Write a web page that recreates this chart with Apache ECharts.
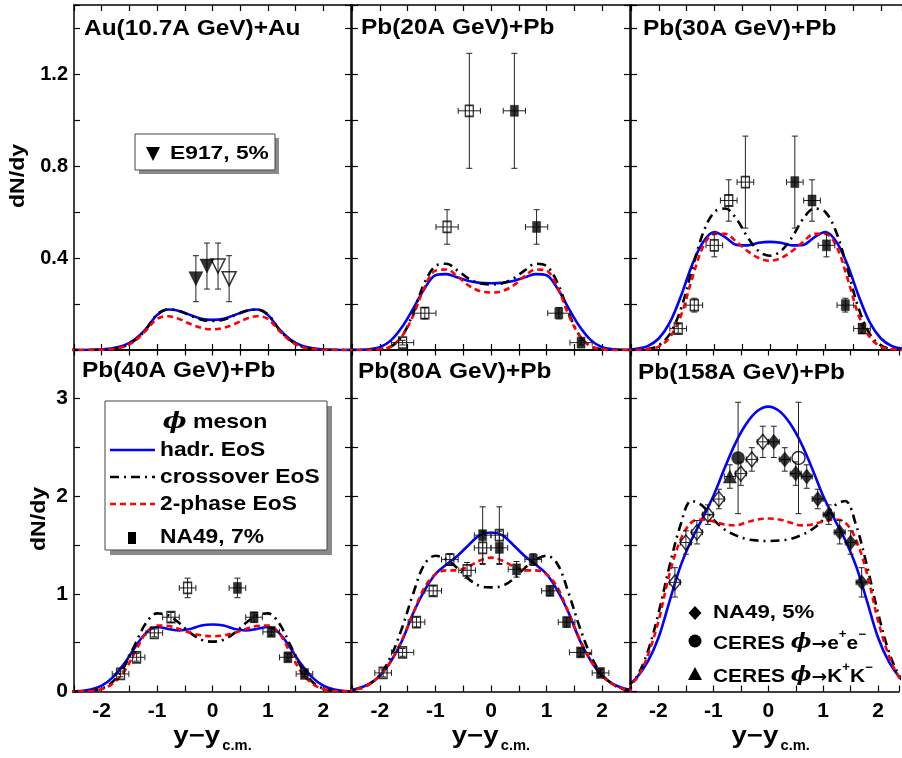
<!DOCTYPE html>
<html><head><meta charset="utf-8">
<script src="https://cdn.jsdelivr.net/npm/echarts@6/dist/echarts.min.js"></script>
<style>html,body{margin:0;padding:0;background:#fff}#c{width:902px;height:758px}</style>
</head><body><div id="c"></div>
<script>
// ---------------- data ----------------
const curveX = [-2.6,-2.4,-2.2,-2.0,-1.8,-1.6,-1.4,-1.2,-1.0,-0.8,-0.6,-0.4,-0.2,0,0.2,0.4,0.6,0.8,1.0,1.2,1.4,1.6,1.8,2.0,2.2,2.4,2.6];

const au11_hadr  = [0,0,0.001,0.003,0.008,0.02,0.047,0.092,0.152,0.176,0.17,0.152,0.136,0.131,0.136,0.152,0.17,0.176,0.152,0.092,0.047,0.02,0.008,0.003,0.001,0,0];
const au11_cross = [0,0,0,0.001,0.005,0.016,0.042,0.09,0.155,0.176,0.17,0.15,0.132,0.126,0.132,0.15,0.17,0.176,0.155,0.09,0.042,0.016,0.005,0.001,0,0,0];
const au11_two   = [0,0,0,0.001,0.004,0.014,0.04,0.085,0.135,0.147,0.135,0.113,0.096,0.09,0.096,0.113,0.135,0.147,0.135,0.085,0.04,0.014,0.004,0.001,0,0,0];

const pb20_hadr  = [0,0.001,0.003,0.012,0.042,0.1,0.18,0.265,0.325,0.33,0.315,0.3,0.292,0.29,0.292,0.3,0.315,0.33,0.325,0.265,0.18,0.1,0.042,0.012,0.003,0.001,0];
const pb20_cross = [0,0,0,0.003,0.015,0.06,0.16,0.29,0.365,0.375,0.345,0.31,0.29,0.285,0.29,0.31,0.345,0.375,0.365,0.29,0.16,0.06,0.015,0.003,0,0,0];
const pb20_two   = [0,0,0,0.003,0.016,0.06,0.15,0.27,0.345,0.35,0.32,0.28,0.256,0.25,0.256,0.28,0.32,0.35,0.345,0.27,0.15,0.06,0.016,0.003,0,0,0];

const pb30_hadr  = [0.001,0.005,0.017,0.05,0.12,0.235,0.37,0.47,0.513,0.49,0.457,0.455,0.466,0.47,0.466,0.455,0.457,0.49,0.513,0.47,0.37,0.235,0.12,0.05,0.017,0.005,0.001];
const pb30_cross = [0,0,0.004,0.02,0.07,0.18,0.35,0.51,0.6,0.615,0.57,0.49,0.43,0.41,0.43,0.49,0.57,0.615,0.6,0.51,0.35,0.18,0.07,0.02,0.004,0,0];
const pb30_two   = [0,0,0.003,0.015,0.055,0.15,0.31,0.45,0.505,0.505,0.47,0.43,0.4,0.388,0.4,0.43,0.47,0.505,0.505,0.45,0.31,0.15,0.055,0.015,0.003,0,0];

const pb40_hadr  = [0.001,0.005,0.02,0.06,0.145,0.28,0.45,0.6,0.66,0.64,0.625,0.64,0.675,0.685,0.675,0.64,0.625,0.64,0.66,0.6,0.45,0.28,0.145,0.06,0.02,0.005,0.001];
const pb40_cross = [0,0.001,0.006,0.03,0.1,0.25,0.48,0.7,0.8,0.78,0.7,0.6,0.53,0.51,0.53,0.6,0.7,0.78,0.8,0.7,0.48,0.25,0.1,0.03,0.006,0.001,0];
const pb40_two   = [0,0.001,0.005,0.025,0.08,0.2,0.4,0.6,0.675,0.67,0.64,0.6,0.575,0.565,0.575,0.6,0.64,0.67,0.675,0.6,0.4,0.2,0.08,0.025,0.005,0.001,0];

const pb80_hadr  = [0.008,0.03,0.075,0.16,0.31,0.52,0.8,1.03,1.2,1.3,1.39,1.5,1.6,1.627,1.6,1.5,1.39,1.3,1.2,1.03,0.8,0.52,0.31,0.16,0.075,0.03,0.008];
const pb80_cross = [0.005,0.02,0.07,0.17,0.36,0.65,1.0,1.3,1.39,1.35,1.26,1.15,1.08,1.066,1.08,1.15,1.26,1.35,1.39,1.3,1.0,0.65,0.36,0.17,0.07,0.02,0.005];
const pb80_two   = [0.006,0.025,0.07,0.16,0.31,0.53,0.8,1.06,1.2,1.24,1.24,1.28,1.34,1.37,1.34,1.28,1.24,1.24,1.2,1.06,0.8,0.53,0.31,0.16,0.07,0.025,0.006];

const pb158_hadr  = [0.04,0.14,0.3,0.55,0.92,1.28,1.55,1.77,2.0,2.28,2.54,2.74,2.87,2.915,2.87,2.74,2.54,2.28,2.0,1.77,1.55,1.28,0.92,0.55,0.3,0.14,0.04];
const pb158_cross = [0.04,0.15,0.4,0.8,1.28,1.7,1.95,1.9,1.76,1.66,1.6,1.56,1.545,1.54,1.545,1.56,1.6,1.66,1.76,1.9,1.95,1.7,1.28,0.8,0.4,0.15,0.04];
const pb158_two   = [0.03,0.13,0.36,0.72,1.2,1.55,1.73,1.76,1.74,1.71,1.7,1.73,1.76,1.77,1.76,1.73,1.7,1.71,1.74,1.76,1.73,1.55,1.2,0.72,0.36,0.13,0.03];

// points: [y, dN/dy, xErr, yErr]
const au11_e917_filled = [[-0.3,0.31,0,0.1],[-0.1,0.365,0,0.1]];
const au11_e917_open   = [[0.1,0.365,0,0.1],[0.3,0.31,0,0.1]];

const pb20_na49_filled = [[0.42,1.04,0.2,0.25],[0.82,0.535,0.2,0.075],[1.22,0.16,0.2,0.025],[1.62,0.032,0.2,0.01]];
const pb20_na49_open   = [[-0.39,1.04,0.2,0.25],[-0.79,0.535,0.2,0.075],[-1.19,0.16,0.2,0.025],[-1.59,0.032,0.2,0.01]];

const pb30_na49_filled = [[0.45,0.73,0.15,0.2],[0.76,0.65,0.15,0.09],[1.02,0.455,0.15,0.05],[1.36,0.195,0.15,0.03],[1.66,0.093,0.15,0.02]];
const pb30_na49_open   = [[-0.44,0.73,0.15,0.2],[-0.74,0.65,0.15,0.09],[-1.0,0.455,0.15,0.05],[-1.36,0.195,0.15,0.03],[-1.65,0.093,0.15,0.02]];

const pb40_na49_filled = [[0.45,1.06,0.15,0.1],[0.75,0.76,0.15,0.05],[1.06,0.61,0.15,0.04],[1.36,0.35,0.15,0.04],[1.66,0.18,0.15,0.03]];
const pb40_na49_open   = [[-0.45,1.06,0.15,0.1],[-0.75,0.76,0.15,0.05],[-1.05,0.6,0.15,0.04],[-1.37,0.35,0.15,0.04],[-1.66,0.18,0.15,0.03]];

const pb80_na49_filled = [[-0.15,1.6,0.15,0.29],[0.15,1.47,0.15,0.17],[0.46,1.25,0.15,0.08],[0.76,1.35,0.15,0.06],[1.06,1.03,0.15,0.05],[1.36,0.71,0.15,0.05],[1.61,0.40,0.2,0.04],[1.97,0.19,0.15,0.04]];
const pb80_na49_open   = [[0.15,1.6,0.15,0.29],[-0.15,1.47,0.15,0.17],[-0.43,1.24,0.15,0.08],[-0.74,1.35,0.15,0.06],[-1.04,1.03,0.15,0.05],[-1.34,0.71,0.15,0.05],[-1.59,0.40,0.2,0.04],[-1.94,0.19,0.15,0.04]];

const pb158_na49_filled = [[0.1,2.555,0.1,0.16],[0.3,2.375,0.1,0.12],[0.5,2.23,0.1,0.12],[0.7,2.2,0.1,0.12],[0.9,1.97,0.1,0.1],[1.1,1.81,0.1,0.1],[1.3,1.63,0.1,0.12],[1.5,1.525,0.1,0.12],[1.7,1.117,0.1,0.15]];
const pb158_na49_open   = [[-0.1,2.555,0.1,0.16],[-0.3,2.375,0.1,0.12],[-0.5,2.23,0.1,0.12],[-0.9,1.97,0.1,0.1],[-1.1,1.81,0.1,0.1],[-1.3,1.63,0.1,0.12],[-1.5,1.525,0.1,0.12],[-1.7,1.117,0.1,0.15]];
const pb158_ceres_ee_filled = [[-0.55,2.39,0,0.57]];
const pb158_ceres_ee_open   = [[0.55,2.39,0,0.57]];
const pb158_ceres_kk_filled = [[-0.7,2.2,0.1,0.12]];

const panelTitles = ['Au(10.7A GeV)+Au','Pb(20A GeV)+Pb','Pb(30A GeV)+Pb','Pb(40A GeV)+Pb','Pb(80A GeV)+Pb','Pb(158A GeV)+Pb'];
const xTickValues = [-2,-1,0,1,2];
const xTickLabels = ['-2','-1','0','1','2'];
const yTopTickValues = [0.4,0.8,1.2];
const yTopTickLabels = ['0.4','0.8','1.2'];
const yBotTickValues = [0,1,2,3];
const yBotTickLabels = ['0','1','2','3'];

// ---------------- layout/style ----------------
const FONT = '"Liberation Sans", Arial, Helvetica, sans-serif';
const cols = [{left:74,width:277,max:2.5},{left:352,width:278,max:2.5},{left:631,width:271,max:2.38}];
const rows = [{top:5,height:345,max:1.5,interval:0.2},{top:349.5,height:342,max:3.5,interval:0.5}];
const BLUE='#0000ff', RED='#ff0000', BLACK='#000000';

const markerStyles = {
  sq:   {symbol:'rect', size:[8,11], rot:0},
  tri:  {symbol:'triangle', size:[14,14], rot:180},
  dia:  {symbol:'diamond', size:[12,15], rot:0},
  circ: {symbol:'circle', size:[13,13], rot:0},
  triup:{symbol:'triangle', size:[13,13], rot:0}
};

const panels = [
  {hadr:au11_hadr, cross:au11_cross, two:au11_two, pts:[{d:au11_e917_filled,k:'tri',f:true},{d:au11_e917_open,k:'tri',f:false}]},
  {hadr:pb20_hadr, cross:pb20_cross, two:pb20_two, pts:[{d:pb20_na49_filled,k:'sq',f:true},{d:pb20_na49_open,k:'sq',f:false}]},
  {hadr:pb30_hadr, cross:pb30_cross, two:pb30_two, pts:[{d:pb30_na49_filled,k:'sq',f:true},{d:pb30_na49_open,k:'sq',f:false}]},
  {hadr:pb40_hadr, cross:pb40_cross, two:pb40_two, pts:[{d:pb40_na49_filled,k:'sq',f:true},{d:pb40_na49_open,k:'sq',f:false}]},
  {hadr:pb80_hadr, cross:pb80_cross, two:pb80_two, pts:[{d:pb80_na49_filled,k:'sq',f:true},{d:pb80_na49_open,k:'sq',f:false}]},
  {hadr:pb158_hadr, cross:pb158_cross, two:pb158_two, pts:[{d:pb158_na49_filled,k:'dia',f:true},{d:pb158_na49_open,k:'dia',f:false},{d:pb158_ceres_ee_filled,k:'circ',f:true},{d:pb158_ceres_ee_open,k:'circ',f:false},{d:pb158_ceres_kk_filled,k:'triup',f:true}]}
];

function pick(vals, labs){
  return function(v){
    const i = vals.findIndex(t => Math.abs(t - v) < 1e-6);
    return i >= 0 ? labs[i] : '';
  };
}

const grids=[], xAxes=[], yAxes=[], series=[];
const axLine = {show:true, onZero:false, lineStyle:{color:'#000', width:1.5}};
const axTick = {show:true, inside:true, length:6, lineStyle:{color:'#000', width:1.2}};
const lblStyle = {color:'#000', fontFamily:FONT, fontWeight:'bold', fontSize:21};

for (let r=0; r<2; r++){
  for (let c=0; c<3; c++){
    const gi = r*3+c;
    const col = cols[c], row = rows[r];
    grids.push({left:col.left, width:col.width, top:row.top, height:row.height, containLabel:false, show:false});
    xAxes.push({type:'value', gridIndex:gi, position:'bottom', min:-2.5, max:col.max, interval:0.5,
      axisLine:axLine, axisTick:axTick, splitLine:{show:false},
      axisLabel:{show:r===1, margin:9, formatter:pick(xTickValues,xTickLabels), ...lblStyle}});
    xAxes.push({type:'value', gridIndex:gi, position:'top', min:-2.5, max:col.max, interval:0.5,
      axisLine:axLine, axisTick:axTick, splitLine:{show:false}, axisLabel:{show:false}});
    yAxes.push({type:'value', gridIndex:gi, position:'left', min:0, max:row.max, interval:row.interval,
      axisLine:axLine, axisTick:axTick, splitLine:{show:false},
      axisLabel:{show:c===0, margin:6,
        formatter: r===0 ? pick(yTopTickValues,yTopTickLabels) : pick(yBotTickValues,yBotTickLabels),
        ...lblStyle, fontSize: r===0 ? 20 : 21}});
    yAxes.push({type:'value', gridIndex:gi, position:'right', min:0, max:row.max, interval:row.interval, show: c!==2,
      axisLine:axLine, axisTick:axTick, splitLine:{show:false}, axisLabel:{show:false}});

    const p = panels[gi];
    const xi = 2*gi, yi = 2*gi;
    const mk = (arr) => curveX.map((x,k) => [x, arr[k]]);
    series.push({type:'line', xAxisIndex:xi, yAxisIndex:yi, data:mk(p.hadr), smooth:0.35, showSymbol:false, silent:true, z:3,
      lineStyle:{color:BLUE, width:2.6}});
    series.push({type:'line', xAxisIndex:xi, yAxisIndex:yi, data:mk(p.cross), smooth:0.35, showSymbol:false, silent:true, z:3,
      lineStyle:{color:BLACK, width:2.6, type:[9,5,2,5]}});
    series.push({type:'line', xAxisIndex:xi, yAxisIndex:yi, data:mk(p.two), smooth:0.35, showSymbol:false, silent:true, z:3,
      lineStyle:{color:RED, width:2.6, type:[6,4]}});

    p.pts.forEach(set => {
      series.push({type:'custom', xAxisIndex:xi, yAxisIndex:yi, data:set.d, encode:{x:0,y:1}, z:4, silent:true,
        renderItem: function(params, api){
          const x=api.value(0), y=api.value(1), ex=api.value(2), ey=api.value(3);
          const c0 = api.coord([x,y]);
          const ch = [];
          const st = {stroke:'#222', lineWidth:1};
          const cap = 3;
          if (ey > 0){
            const lo = api.coord([x,y-ey]), hi = api.coord([x,y+ey]);
            ch.push({type:'line', shape:{x1:c0[0],y1:lo[1],x2:c0[0],y2:hi[1]}, style:st});
            ch.push({type:'line', shape:{x1:c0[0]-cap,y1:lo[1],x2:c0[0]+cap,y2:lo[1]}, style:st});
            ch.push({type:'line', shape:{x1:c0[0]-cap,y1:hi[1],x2:c0[0]+cap,y2:hi[1]}, style:st});
          }
          if (ex > 0){
            const l = api.coord([x-ex,y]), rr = api.coord([x+ex,y]);
            ch.push({type:'line', shape:{x1:l[0],y1:c0[1],x2:rr[0],y2:c0[1]}, style:st});
            ch.push({type:'line', shape:{x1:l[0],y1:c0[1]-cap,x2:l[0],y2:c0[1]+cap}, style:st});
            ch.push({type:'line', shape:{x1:rr[0],y1:c0[1]-cap,x2:rr[0],y2:c0[1]+cap}, style:st});
          }
          return {type:'group', children:ch};
        }});
      const ms = markerStyles[set.k];
      series.push({type:'scatter', xAxisIndex:xi, yAxisIndex:yi, data:set.d.map(d=>[d[0],d[1]]), z:5, silent:true,
        symbol:ms.symbol, symbolSize:ms.size, symbolRotate:ms.rot,
        itemStyle: set.f ? {color:'#000', borderColor:'#000', borderWidth:0.5}
                         : {color:'rgba(255,255,255,0)', borderColor:'#000', borderWidth:1.5}});
    });
  }
}

// ---------------- text / legends ----------------
function txt(x, y, text, size, sx, rich){
  const st = {text:text, fill:'#000', font:'bold '+size+'px '+FONT, align:'left', verticalAlign:'middle'};
  if (rich) st.rich = rich;
  return {type:'text', x:x, y:y, z:12, scaleX:sx, style:st};
}
const titlePos = [[84,29],[361,28],[643,29],[82,371],[358,372],[638,373]];
const g = [];
titlePos.forEach((tp,i)=>{ g.push(txt(tp[0], tp[1], panelTitles[i], 22, 1.11)); });
// y-axis titles
g.push({type:'text', x:18.5, y:176, rotation:Math.PI/2, scaleX:1.1, z:10, style:{text:'dN/dy', fill:'#000', font:'bold 21px '+FONT, align:'center', verticalAlign:'middle'}});
g.push({type:'text', x:39, y:519, rotation:Math.PI/2, scaleX:1.1, z:10, style:{text:'dN/dy', fill:'#000', font:'bold 21px '+FONT, align:'center', verticalAlign:'middle'}});
// x-axis titles
[212.3, 490.7, 770.5].forEach(cx=>{
  g.push({type:'text', x:cx-39, y:737, z:10, scaleX:1.2, style:{text:'y\u2212y', fill:'#000', font:'bold 23px '+FONT, align:'left', verticalAlign:'middle'}});
  g.push({type:'text', x:cx+10, y:746, z:10, scaleX:1.05, style:{text:'c.m.', fill:'#000', font:'bold 14px '+FONT, align:'left', verticalAlign:'middle'}});
});
// legend panel 1
g.push({type:'rect', z:10, shape:{x:139,y:138,width:140,height:36}, style:{fill:'#8a8a8a'}});
g.push({type:'rect', z:11, shape:{x:135,y:134,width:140,height:36}, style:{fill:'#fff', stroke:'#444', lineWidth:1}});
g.push({type:'polygon', z:12, shape:{points:[[146,147],[160,147],[153,161]]}, style:{fill:'#000'}});
g.push(txt(170, 154, 'E917, 5%', 19, 1.2));
// legend panel 4
g.push({type:'rect', z:10, shape:{x:110,y:406,width:222,height:149}, style:{fill:'#8a8a8a'}});
g.push({type:'rect', z:11, shape:{x:105,y:401,width:222,height:149}, style:{fill:'#fff', stroke:'#444', lineWidth:1}});
g.push({type:'text', x:215, y:422, z:12, scaleX:1.1, style:{text:'{p|\u03d5} meson', fill:'#000', font:'bold 21px '+FONT, align:'center', verticalAlign:'middle',
  rich:{p:{fontFamily:'"DejaVu Serif", serif', fontStyle:'italic', fontWeight:'bold', fontSize:23}}}});
g.push({type:'line', z:12, shape:{x1:110,y1:450,x2:155,y2:450}, style:{stroke:BLUE, lineWidth:2.6}});
g.push({type:'line', z:12, shape:{x1:110,y1:477,x2:155,y2:477}, style:{stroke:BLACK, lineWidth:2.6, lineDash:[9,5,2,5]}});
g.push({type:'line', z:12, shape:{x1:110,y1:504,x2:155,y2:504}, style:{stroke:RED, lineWidth:2.6, lineDash:[6,4]}});
g.push({type:'rect', z:12, shape:{x:128,y:532,width:8,height:12}, style:{fill:'#000'}});
[['hadr. EoS',450],['crossover EoS',477],['2-phase EoS',504],['NA49, 7%',537]].forEach(t=>{
  g.push(txt(160, t[1], t[0], 20, 1.14));
});
// legend panel 6
g.push({type:'polygon', z:12, shape:{points:[[695,606],[701.5,613],[695,620],[688.5,613]]}, style:{fill:'#000'}});
g.push({type:'circle', z:12, shape:{cx:695,cy:641,r:6.5}, style:{fill:'#000'}});
g.push({type:'polygon', z:12, shape:{points:[[688,680],[702,680],[695,667]]}, style:{fill:'#000'}});
const richC = {
  a:{fontFamily:FONT, fontWeight:'bold', fontSize:19, verticalAlign:'bottom', lineHeight:24},
  p:{fontFamily:'"DejaVu Serif", serif', fontStyle:'italic', fontWeight:'bold', fontSize:20, verticalAlign:'bottom', lineHeight:24},
  r:{fontFamily:'"DejaVu Sans", sans-serif', fontWeight:'bold', fontSize:17, verticalAlign:'bottom', lineHeight:24},
  s:{fontFamily:FONT, fontWeight:'bold', fontSize:12, verticalAlign:'top', lineHeight:14}
};
g.push(txt(713, 613, 'NA49, 5%', 19, 1.17));
g.push(txt(713, 641, '{a|CERES }{p|\u03d5}{r|\u2192}{a|e}{s|+}{a|e}{s|\u2212}', 19, 1.1, richC));
g.push(txt(713, 674, '{a|CERES }{p|\u03d5}{r|\u2192}{a|K}{s|+}{a|K}{s|\u2212}', 19, 1.1, richC));

const chart = echarts.init(document.getElementById('c'), null, {renderer:'canvas'});
chart.setOption({
  animation:false,
  backgroundColor:'#fff',
  grid:grids, xAxis:xAxes, yAxis:yAxes, series:series, graphic:g
});
</script></body></html>
